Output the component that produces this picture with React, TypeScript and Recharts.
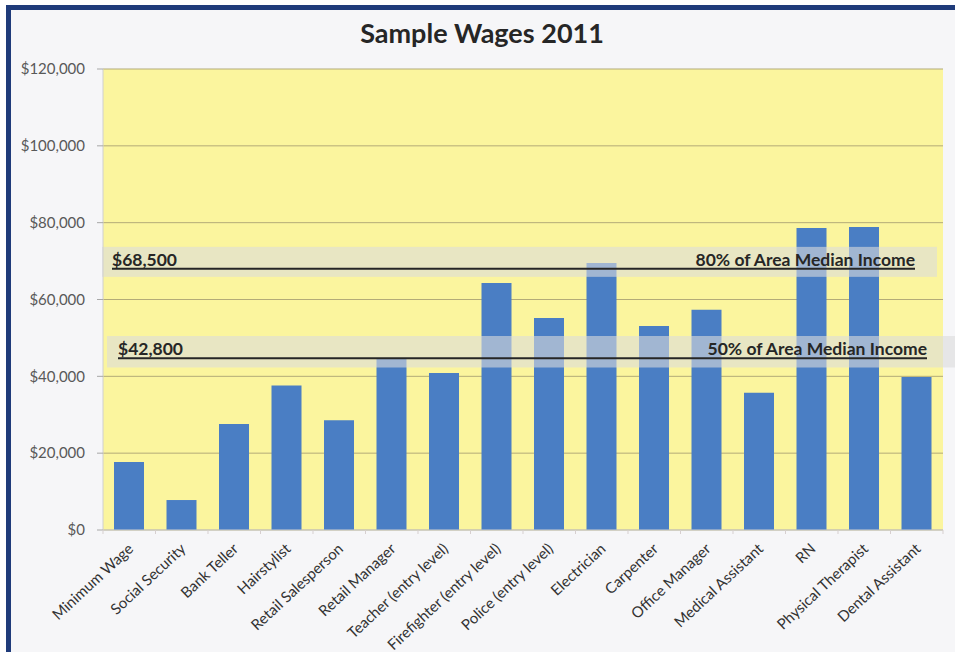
import React from "react";
import {
  BarChart,
  Bar,
  XAxis,
  YAxis,
  CartesianGrid,
  ReferenceArea,
  ReferenceLine,
} from "recharts";

const JOBS = [
  "Minimum Wage",
  "Social Security",
  "Bank Teller",
  "Hairstylist",
  "Retail Salesperson",
  "Retail Manager",
  "Teacher (entry level)",
  "Firefighter (entry level)",
  "Police (entry level)",
  "Electrician",
  "Carpenter",
  "Office Manager",
  "Medical Assistant",
  "RN",
  "Physical Therapist",
  "Dental Assistant",
];

const WAGES = [
  17700, 7800, 27600, 37600, 28600, 44500, 40900, 64300,
  55200, 69500, 53100, 57300, 35700, 78600, 78900, 39800,
];

const Y_TICKS = [0, 20000, 40000, 60000, 80000, 100000, 120000];

// income thresholds: where the line sits, the shaded band round it, the two captions
const LINE_VALUES = [68000, 44700];
const BAND_LOW = [65900, 42300];
const BAND_HIGH = [73700, 50500];
const AMOUNT_LABELS = ["$68,500", "$42,800"];
const SHARE_LABELS = ["80% of Area Median Income", "50% of Area Median Income"];

const FONT = "Lato, 'Open Sans', sans-serif";
const BAR_BLUE = "#4a7ec4";
const PLOT_YELLOW = "#fbf59e";

const data = JOBS.map((name, i) => ({ name, wage: WAGES[i] }));

const money = (v: number) => "$" + v.toLocaleString("en-US");

// band extents differ a little from the plot box in the original
const bandInset = [
  { left: -1, right: -6 },
  { left: 4, right: 12 },
];
const lineInset = [
  { left: 9, right: 28 },
  { left: 15, right: 16 },
];
const labelRight = [915, 927];

function XTick(props: any) {
  const { x, y, payload, index } = props;
  const half = payload?.offset ?? 26.25;
  const ax = x + 5;
  const ay = y + 12;
  const axisY = y - 8;
  return (
    <g>
      <line x1={x - half} y1={axisY} x2={x - half} y2={axisY + 4} stroke="#d6cfcf" />
      {index === JOBS.length - 1 && (
        <line x1={x + half} y1={axisY} x2={x + half} y2={axisY + 4} stroke="#d6cfcf" />
      )}
      <text
        x={ax}
        y={ay}
        textAnchor="end"
        transform={`rotate(-43, ${ax}, ${ay})`}
        fontFamily={FONT}
        fontSize={15}
        fill="#333"
      >
        {payload.value}
      </text>
    </g>
  );
}

function makeBand(i: number) {
  return (p: any) => (
    <rect
      x={p.x + bandInset[i].left}
      y={p.y}
      width={p.width - bandInset[i].left + bandInset[i].right}
      height={p.height}
      fill="#dcdcdc"
      fillOpacity={0.6}
    />
  );
}

function makeLine(i: number) {
  return (p: any) => {
    const x1 = p.x1 + lineInset[i].left;
    const x2 = p.x2 - lineInset[i].right;
    const y = p.y1;
    return (
      <g>
        <line x1={x1} y1={y} x2={x2} y2={y} stroke="#262626" strokeWidth={2} />
        <text x={x1} y={y - 3} fontFamily={FONT} fontWeight={700} fontSize={17.5} fill="#262626">
          {AMOUNT_LABELS[i]}
        </text>
        <text
          x={labelRight[i]}
          y={y - 3}
          textAnchor="end"
          fontFamily={FONT}
          fontWeight={700}
          fontSize={17.5}
          fill="#262626"
        >
          {SHARE_LABELS[i]}
        </text>
      </g>
    );
  };
}

export default function App() {
  return (
    <div
      style={{
        position: "fixed",
        left: 0,
        top: 0,
        width: 955,
        height: 652,
        background: "#ffffff",
        overflow: "hidden",
      }}
    >
      <div
        style={{
          position: "absolute",
          left: 6,
          top: 5,
          right: 0,
          bottom: 0,
          borderTop: "5px solid #1f3b7a",
          borderLeft: "5px solid #1f3b7a",
          background: "#f6f6f8",
        }}
      />
      <div
        style={{
          position: "absolute",
          left: 0,
          top: 16,
          width: 964,
          textAlign: "center",
          fontFamily: FONT,
          fontWeight: 700,
          fontSize: 27,
          lineHeight: "normal",
          color: "#262626",
        }}
      >
        Sample Wages 2011
      </div>
      <div style={{ position: "absolute", left: 0, top: 0 }}>
        <BarChart
          width={955}
          height={652}
          data={data}
          margin={{ top: 69, right: 12, bottom: 92, left: 13 }}
        >
          <CartesianGrid
            vertical={false}
            stroke="#b3ab78"
            fill={PLOT_YELLOW}
            fillOpacity={1}
          />
          <XAxis
            dataKey="name"
            interval={0}
            tickLine={false}
            axisLine={{ stroke: "#cfcfcf" }}
            tick={<XTick />}
          />
          <YAxis
            width={90}
            domain={[0, 120000]}
            ticks={Y_TICKS}
            tickFormatter={money}
            tickSize={6}
            tickMargin={12}
            axisLine={{ stroke: "#d0d0d0" }}
            tickLine={{ stroke: "#a8a8a8" }}
            tick={{ fontFamily: FONT, fontSize: 15, fill: "#595959" }}
          />
          <Bar dataKey="wage" fill={BAR_BLUE} barSize={30} isAnimationActive={false} />
          {LINE_VALUES.map((v, i) => (
            <ReferenceArea
              key={"band" + i}
              y1={BAND_LOW[i]}
              y2={BAND_HIGH[i]}
              shape={makeBand(i)}
              zIndex={350}
            />
          ))}
          {LINE_VALUES.map((v, i) => (
            <ReferenceLine key={"line" + i} y={v} shape={makeLine(i)} zIndex={400} />
          ))}
        </BarChart>
      </div>
    </div>
  );
}
